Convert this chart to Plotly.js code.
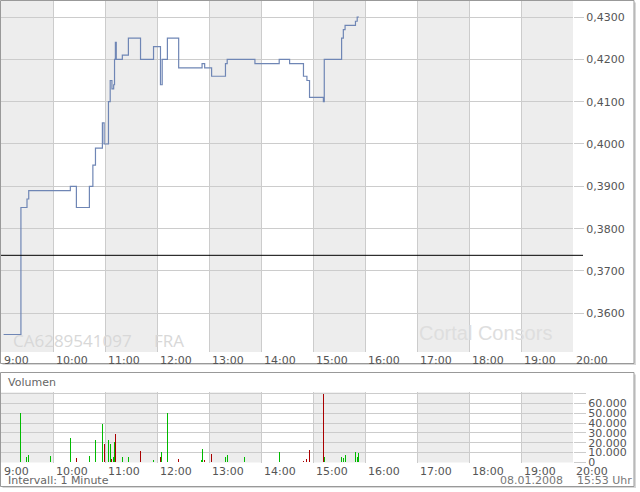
<!DOCTYPE html>
<html><head><meta charset="utf-8">
<script src="https://cdn.plot.ly/plotly-3.0.1.min.js"></script>
<style>html,body{margin:0;padding:0;background:#fff;}#chart{width:640px;height:492px;}</style>
</head><body><div id="chart"></div>
<script>
// ---------- data ----------
const day = '2008-01-08 ';
const priceTimes = ['09:03','09:23','09:30','09:32','10:20','10:27','10:42','10:46','10:49','10:57','10:59',
  '11:04','11:06','11:08','11:10','11:11','11:12','11:13','11:20','11:27','11:41','11:56',
  '12:04','12:06','12:12','12:25','12:52','12:55','13:03','13:19','13:21','13:53',
  '14:21','14:33','14:49','14:53','14:56','15:12','15:13','15:33','15:35','15:37','15:49','15:51','15:53'];
const priceValues = [0.355,0.385,0.387,0.389,0.390,0.385,0.390,0.395,0.399,0.405,0.400,
  0.410,0.415,0.413,0.414,0.420,0.424,0.420,0.421,0.425,0.420,0.423,
  0.414,0.420,0.425,0.418,0.419,0.418,0.416,0.419,0.420,0.419,
  0.420,0.419,0.416,0.415,0.411,0.410,0.420,0.425,0.427,0.428,0.429,0.430,0.430];

const upTimes = ['09:23','09:29','09:32','09:57','10:20','10:42','10:45','10:49','10:57','11:04','11:06','11:10','11:11',
  '11:20','11:27','11:56','12:05','12:12','12:51','12:52','13:19','13:21','13:41','14:21',
  '15:13','15:33','15:35','15:37','15:49','15:51','15:52'];
const upVolumes = [50500,6000,8000,7000,25000,7000,11000,23000,39000,23000,19000,6000,21000,
  6000,6000,3000,11000,50500,3000,14000,6000,8000,6000,11000,
  6000,6000,5000,8000,11000,6000,10000];
const downTimes = ['10:27','10:59','11:08','11:12','11:41','12:04','12:25','12:55','13:03','13:53','14:33','14:49','14:53','14:56','15:12'];
const downVolumes = [5000,19000,4000,29000,12000,6000,4000,3000,9000,1000,1000,2000,4000,13000,69500];

const prevClose = 0.3737;
const volTickVals = [0,10000,20000,30000,40000,50000,60000,70000];
const volTickText = ['0','10.000','20.000','30.000','40.000','50.000','60.000',''];
const shadedHours = [9,11,13,15,17,19];

const isinText = 'CA6289541097';
const exchangeText = 'FRA';
const brandText = 'Cortal Consors';
const volumeTitle = 'Volumen';
const intervalText = 'Intervall: 1 Minute';
const dateText = '08.01.2008';
const timeText = '15:53 Uhr';

// ---------- layout helpers ----------
const W = 640, H = 492;
const px = x => x / W;
const py = y => 1 - y / H;
const X0 = 1, X1 = 573;
const P_TOP = 1, P_BOT = 352;
const V_TOP = 392.3, V_BOT = 462.5;
const hh = h => day + (h < 10 ? '0' : '') + h + ':00';

const priceTrace = {
  type: 'scatter', mode: 'lines', xaxis: 'x', yaxis: 'y',
  x: priceTimes.map(t => day + t), y: priceValues,
  line: {shape: 'hv', color: '#6f86b5', width: 1.2}, hoverinfo: 'skip'
};
const upTrace = {
  type: 'bar', xaxis: 'x2', yaxis: 'y2',
  x: upTimes.map(t => day + t), y: upVolumes, width: 66000,
  marker: {color: '#00bb00', line: {width: 0}}, hoverinfo: 'skip'
};
const downTrace = {
  type: 'bar', xaxis: 'x2', yaxis: 'y2',
  x: downTimes.map(t => day + t), y: downVolumes, width: 66000,
  marker: {color: '#aa0000', line: {width: 0}}, hoverinfo: 'skip'
};

const shapes = [];
// panel shadows
shapes.push({type:'rect', xref:'paper', yref:'paper', layer:'below', x0:px(2.5), x1:px(636), y0:py(365), y1:py(2.5), fillcolor:'#d8d8d8', line:{width:0}});
shapes.push({type:'rect', xref:'paper', yref:'paper', layer:'below', x0:px(2.5), x1:px(636), y0:py(488), y1:py(374.5), fillcolor:'#d8d8d8', line:{width:0}});
// panels
shapes.push({type:'rect', xref:'paper', yref:'paper', layer:'below', x0:px(0.5), x1:px(634), y0:py(363.5), y1:py(0.5), fillcolor:'#ffffff', line:{color:'#999999', width:1}});
shapes.push({type:'rect', xref:'paper', yref:'paper', layer:'below', x0:px(0.5), x1:px(634), y0:py(486.5), y1:py(372.5), fillcolor:'#ffffff', line:{color:'#999999', width:1}});
// shaded hour bands
shadedHours.forEach(h => {
  shapes.push({type:'rect', xref:'x', yref:'y domain', layer:'below', x0:hh(h), x1:hh(h+1), y0:0, y1:1, fillcolor:'#ededed', line:{width:0}});
  shapes.push({type:'rect', xref:'x2', yref:'y2 domain', layer:'below', x0:hh(h), x1:hh(h+1), y0:0, y1:1, fillcolor:'#ededed', line:{width:0}});
});
// previous close line
shapes.push({type:'line', xref:'paper', yref:'y', x0:px(1), x1:px(583), y0:prevClose, y1:prevClose, line:{color:'#000000', width:1}});

const annotations = [
  {text:isinText, xref:'paper', yref:'paper', x:px(11), y:py(340), xanchor:'left', yanchor:'middle', showarrow:false, font:{family:'Open Sans, sans-serif', size:17, color:'#d8d8d8'}},
  {text:exchangeText, xref:'paper', yref:'paper', x:px(152), y:py(340), xanchor:'left', yanchor:'middle', showarrow:false, font:{family:'Open Sans, sans-serif', size:17, color:'#d8d8d8'}},
  {text:brandText, xref:'paper', yref:'paper', x:px(417), y:py(333), xanchor:'left', yanchor:'middle', showarrow:false, font:{family:'Liberation Sans, Arial, sans-serif', size:20, color:'#dedede'}},
  {text:volumeTitle, xref:'paper', yref:'paper', x:px(6), y:py(382), xanchor:'left', yanchor:'middle', showarrow:false, font:{size:11, color:'#666666'}},
  {text:intervalText, xref:'paper', yref:'paper', x:px(6), y:py(480), xanchor:'left', yanchor:'middle', showarrow:false, font:{size:11, color:'#666666'}},
  {text:dateText, xref:'paper', yref:'paper', x:px(498), y:py(480), xanchor:'left', yanchor:'middle', showarrow:false, font:{size:11, color:'#777777'}},
  {text:timeText, xref:'paper', yref:'paper', x:px(575), y:py(480), xanchor:'left', yanchor:'middle', showarrow:false, font:{size:11, color:'#777777'}}
];

const xCommon = {
  type:'date', range:[hh(9), hh(20)], tick0:hh(9), dtick:3600000, tickformat:'%-H:%M',
  showgrid:true, gridcolor:'#cccccc', gridwidth:1, ticks:'', ticklabelposition:'outside right',
  ticklabelshift:3, zeroline:false, showline:false, fixedrange:true, tickfont:{size:11, color:'#555555'}
};

const layout = {
  width: W, height: H, margin:{l:0, r:0, t:0, b:0, pad:0},
  paper_bgcolor:'#ffffff', plot_bgcolor:'rgba(0,0,0,0)',
  separators: ',.', showlegend:false, bargap:0,
  font:{family:'DejaVu Sans, Verdana, sans-serif', size:11, color:'#555555'},
  xaxis: Object.assign({}, xCommon, {domain:[px(X0), px(X1)], anchor:'y'}),
  xaxis2: Object.assign({}, xCommon, {domain:[px(X0), px(X1)], anchor:'y2'}),
  yaxis: {domain:[py(P_BOT), py(P_TOP)], anchor:'x', side:'right', range:[0.35086, 0.43378],
    tick0:0.36, dtick:0.01, tickformat:'.4f', showgrid:true, gridcolor:'#cccccc', ticks:'outside',
    ticklen:10, tickcolor:'#cccccc', tickwidth:1, zeroline:false, showline:false, fixedrange:true,
    tickfont:{size:11, color:'#555555'}},
  yaxis2: {domain:[py(V_BOT), py(V_TOP)], anchor:'x2', side:'right', range:[0, 71100],
    tickmode:'array', tickvals:volTickVals, ticktext:volTickText, showgrid:true, gridcolor:'#cccccc',
    ticks:'outside', ticklen:12, tickcolor:'#cccccc', tickwidth:1, zeroline:false, showline:false,
    fixedrange:true, tickfont:{size:11, color:'#555555'}},
  shapes: shapes, annotations: annotations
};

Plotly.newPlot('chart', [priceTrace, upTrace, downTrace], layout, {staticPlot:true, displayModeBar:false});
</script>
</body></html>
